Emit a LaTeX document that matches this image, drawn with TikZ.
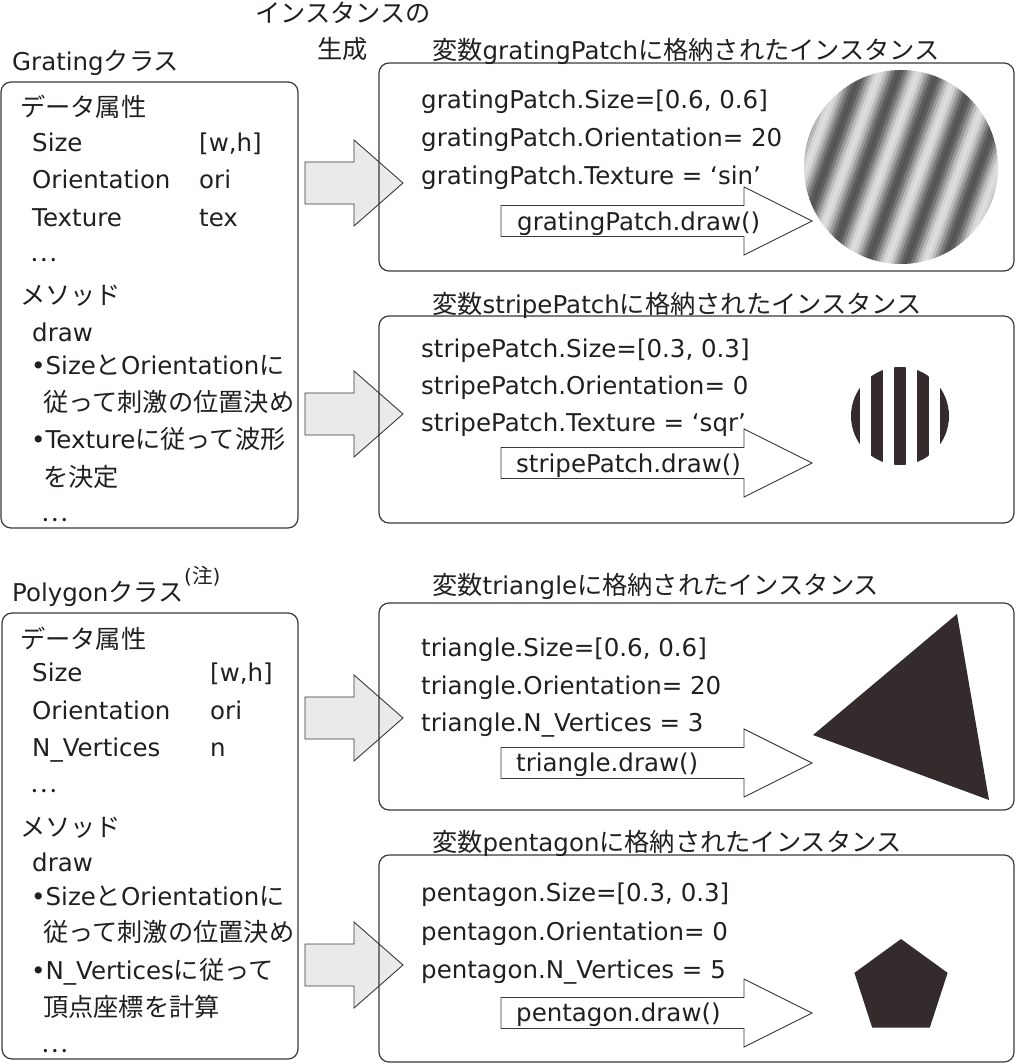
\documentclass[tikz,border=0pt]{standalone}
\usepackage{fontspec}
\setmainfont{DejaVu Sans}
\newfontfamily\jp[Scale=1.03]{Noto Sans CJK JP}
\newcommand{\ja}[1]{{\jp #1}}
\usetikzlibrary{positioning,shapes.geometric}
\definecolor{ink}{RGB}{35,31,32}
\definecolor{frame}{RGB}{60,56,56}
\definecolor{shapefill}{RGB}{52,44,44}
\definecolor{arrowgray}{RGB}{234,234,234}
\tikzstyle{box} = [draw=frame, line width=1.2pt, rounded corners=10pt]
\tikzstyle{txt} = [anchor=west, inner sep=0pt, text=ink,
    font=\fontsize{24.5}{30}\selectfont, text height=22pt, text depth=3pt]
\tikzstyle{note} = [txt, font=\fontsize{20}{22}\selectfont, text height=17pt, text depth=3pt]
\tikzstyle{bigarr} = [draw=frame, line width=0.9pt, fill=arrowgray]
\tikzstyle{smallarr} = [draw=frame, line width=0.9pt, fill=white]
% y, tail x, base x, tip x, half body, half head
\newcommand{\blockarrow}[7]{\draw[#1] (#3,#2-#6) -- (#4,#2-#6) -- (#4,#2-#7) -- (#5,#2)
    -- (#4,#2+#7) -- (#4,#2+#6) -- (#3,#2+#6) -- cycle;}

\begin{document}
\begin{tikzpicture}[x=1pt,y=-1pt]
  \useasboundingbox (0,0) rectangle (1017,1064);

  % big arrows: class -> instance
  \blockarrow{bigarr}{183}{305}{354}{403}{21}{43}
  \blockarrow{bigarr}{414}{305}{354}{403}{21}{43}
  \blockarrow{bigarr}{718}{305}{354}{403}{21}{43}
  \blockarrow{bigarr}{965}{305}{354}{403}{21}{43}

  % class boxes
  \draw[box] (1,82) rectangle (298,528);
  \draw[box] (2,613) rectangle (298,1059);
  % instance boxes
  \draw[box] (379,63) rectangle (1014,271);
  \draw[box] (379,316) rectangle (1014,523);
  \draw[box] (379,603) rectangle (1014,810);
  \draw[box] (379,855) rectangle (1014,1062);

  \node[txt] (gen1) at (255,13) {\ja{インスタンスの}};
  \node[txt] (gen2) at (317,49) {\ja{生成}};

  % Grating class
  \node[txt] (gtitle) at (12,61) {Grating\ja{クラス}};
  \node[txt] (gattr)  at (20,107) {\ja{データ属性}};
  \node[txt] (gsize)  at (32,142) {Size};
  \node[txt] (gsizev) at (199,142) {[w,h]};
  \node[txt] (gori)   at (32,179) {Orientation};
  \node[txt] (goriv)  at (199,179) {ori};
  \node[txt] (gtex)   at (32,217) {Texture};
  \node[txt] (gtexv)  at (199,217) {tex};
  \node[txt] (gdots)  at (30,252) {\ja{…}};
  \node[txt] (gmeth)  at (20,295) {\ja{メソッド}};
  \node[txt] (gdraw)  at (32,332) {draw};
  \node[txt] (gm1)    at (31,365) {•Size\ja{と}Orientation\ja{に}};
  \node[txt] (gm2)    at (43,402) {\ja{従って刺激の位置決め}};
  \node[txt] (gm3)    at (31,439) {•Texture\ja{に従って波形}};
  \node[txt] (gm4)    at (43,477) {\ja{を決定}};
  \node[txt] (gdots2) at (41,512) {\ja{…}};

  % Polygon class
  \node[txt] (ptitle) at (12,592) {Polygon\ja{クラス}};
  \node[note] (pnote) at (184,576) {(\ja{注})};
  \node[txt] (pattr)  at (20,639) {\ja{データ属性}};
  \node[txt] (psize)  at (32,672) {Size};
  \node[txt] (psizev) at (210,672) {[w,h]};
  \node[txt] (pori)   at (32,710) {Orientation};
  \node[txt] (poriv)  at (210,710) {ori};
  \node[txt] (pvert)  at (32,747) {N\_Vertices};
  \node[txt] (pvertv) at (210,747) {n};
  \node[txt] (pdots)  at (30,783) {\ja{…}};
  \node[txt] (pmeth)  at (20,827) {\ja{メソッド}};
  \node[txt] (pdraw)  at (32,862) {draw};
  \node[txt] (pm1)    at (31,896) {•Size\ja{と}Orientation\ja{に}};
  \node[txt] (pm2)    at (43,932) {\ja{従って刺激の位置決め}};
  \node[txt] (pm3)    at (31,970) {•N\_Vertices\ja{に従って}};
  \node[txt] (pm4)    at (43,1007) {\ja{頂点座標を計算}};
  \node[txt] (pdots2) at (41,1043) {\ja{…}};

  % instance: gratingPatch
  \node[txt] (ititle1) at (432,50) {\ja{変数}gratingPatch\ja{に格納されたインスタンス}};
  \node[txt] (gp1) at (421,99)  {gratingPatch.Size=[0.6, 0.6]};
  \node[txt] (gp2) at (421,137) {gratingPatch.Orientation= 20};
  \node[txt] (gp3) at (421,175) {gratingPatch.Texture = ‘sin’};
  \blockarrow{smallarr}{221}{501}{744}{812}{15.5}{34}
  \node[txt] (gpdraw) at (517,221) {gratingPatch.draw()};
  \begin{scope}
    \clip (901,167) circle (97);
    \begin{scope}[shift={(901,167)}, rotate=-20]
      \foreach \i in {-37,...,36} {
        \pgfmathsetmacro\shadepct{40+27*cos(30*\i)}
        \fill[black!\shadepct] (\i*3,-110) rectangle (\i*3+3.5,110);
      }
    \end{scope}
  \end{scope}
  \node[circle, minimum size=194pt, inner sep=0pt] (gpatch) at (901,167) {};

  % instance: stripePatch
  \node[txt] (ititle2) at (432,304) {\ja{変数}stripePatch\ja{に格納されたインスタンス}};
  \node[txt] (sp1) at (421,348) {stripePatch.Size=[0.3, 0.3]};
  \node[txt] (sp2) at (421,385) {stripePatch.Orientation= 0};
  \node[txt] (sp3) at (421,422) {stripePatch.Texture = ‘sqr’};
  \blockarrow{smallarr}{463}{501}{744}{812}{15.5}{34}
  \node[txt] (spdraw) at (516,463) {stripePatch.draw()};
  \begin{scope}
    \clip (900,416) circle (49);
    \foreach \k in {-2,...,2}
      \fill[shapefill] (900+\k*23-6,360) rectangle (900+\k*23+6,470);
  \end{scope}
  \node[circle, minimum size=98pt, inner sep=0pt] (spatch) at (900,416) {};

  % instance: triangle
  \node[txt] (ititle3) at (432,585) {\ja{変数}triangle\ja{に格納されたインスタンス}};
  \node[txt] (tr1) at (421,647) {triangle.Size=[0.6, 0.6]};
  \node[txt] (tr2) at (421,685) {triangle.Orientation= 20};
  \node[txt] (tr3) at (421,722) {triangle.N\_Vertices = 3};
  \blockarrow{smallarr}{763}{501}{744}{812}{15.5}{34}
  \node[txt] (trdraw) at (516,762) {triangle.draw()};
  \fill[shapefill] (957,614) -- (813,735) -- (989,800) -- cycle;

  % instance: pentagon
  \node[txt] (ititle4) at (432,842) {\ja{変数}pentagon\ja{に格納されたインスタンス}};
  \node[txt] (pe1) at (421,892) {pentagon.Size=[0.3, 0.3]};
  \node[txt] (pe2) at (421,931) {pentagon.Orientation= 0};
  \node[txt] (pe3) at (421,969) {pentagon.N\_Vertices = 5};
  \blockarrow{smallarr}{1013}{501}{744}{812}{15.5}{34}
  \node[txt] (pedraw) at (516,1012) {pentagon.draw()};
  \node[regular polygon, regular polygon sides=5, minimum size=98pt,
        inner sep=0pt, fill=shapefill] (penta) at (901,988) {};
\end{tikzpicture}
\end{document}
